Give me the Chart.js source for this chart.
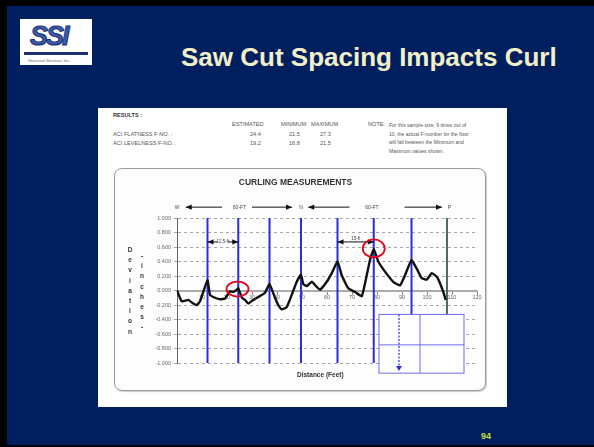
<!DOCTYPE html>
<html>
<head>
<meta charset="utf-8">
<script src="https://cdn.jsdelivr.net/npm/chart.js@4.4.0/dist/chart.umd.min.js"></script>
<style>
  body { margin: 0; background: #000; width: 594px; height: 447px; overflow: hidden; font-family: "Liberation Sans", Arial, sans-serif; }
  .slide { position: absolute; left: 7px; top: 6px; width: 587px; height: 439px; background: #001f5e; }
  .abs { position: absolute; white-space: nowrap; }
  .logo { position: absolute; left: 20px; top: 19px; width: 72px; height: 46px; background: #fff; }
  .title { left: 181px; top: 41px; font-size: 26px; font-weight: bold; color: #f3efc9; line-height: 32px; }
  .pg { left: 481px; top: 431px; font-size: 9px; font-weight: bold; color: #c6e23e; }
  .panel { position: absolute; left: 98px; top: 108px; width: 409px; height: 299px; background: #fff; }
  .t { color: #555; font-size: 5.6px; line-height: 7px; }
  .box { position: absolute; left: 114px; top: 168px; width: 370px; height: 221px; border: 1px solid #9a9a9a; border-radius: 8px; background: #fdfdfd; box-shadow: 1px 1px 1px #ccc; }
  canvas { position: absolute; left: 114px; top: 168px; }
  .lt { font-size: 6.5px; font-weight: bold; color: #333; text-align: center; width: 8px; line-height: 10.2px; }
</style>
</head>
<body>
<div class="slide"></div>
<div class="logo">
  <div class="abs" style="left:10px;top:2px;font-size:27px;font-weight:bold;font-style:italic;color:#3b5caa;letter-spacing:-2px;-webkit-text-stroke:1px #1d2f6e;">SSI</div>
  <div class="abs" style="left:4px;top:33px;width:64px;height:3px;background:#1d2f6e;"></div>
  <div class="abs" style="left:8px;top:39px;font-size:4px;color:#666;">Structural Services, Inc.</div>
</div>
<div class="abs title">Saw Cut Spacing Impacts Curl</div>
<div class="abs pg">94</div>
<div class="panel"></div>

<div class="abs t" style="left:113px;top:112px;font-weight:bold;color:#333;">RESULTS :</div>
<div class="abs t" style="left:232px;top:121px;">ESTIMATED</div>
<div class="abs t" style="left:281px;top:121px;">MINIMUM</div>
<div class="abs t" style="left:311px;top:121px;">MAXIMUM</div>
<div class="abs t" style="left:113px;top:131px;">ACI FLATNESS F-NO. :</div>
<div class="abs t" style="left:113px;top:140px;">ACI LEVELNESS F-NO. :</div>
<div class="t" id="vals"></div>
<div class="abs t" style="left:368px;top:121px;">NOTE:</div>
<div class="abs t" style="left:389px;top:121px;font-size:5px;line-height:8.5px;">For this sample size, 9 times out of<br>10, the actual F-number for the floor<br>will fall between the Minimum and<br>Maximum values shown.</div>

<div class="box"></div>
<canvas id="curl" width="372" height="223"></canvas>
<div id="ylab"></div>
<div class="abs" style="left:297px;top:371px;font-size:6.5px;font-weight:bold;color:#333;">Distance (Feet)</div>

<script>
// results table
var estimated = [24.4, 19.2];
var minimum = [21.5, 16.8];
var maximum = [27.3, 21.5];

// curling profile, distance in feet vs deviation in inches
var distanceFt = [0, 1.9, 4.5, 6.5, 7.9, 9.2, 12.2, 13.2, 15.2, 17.2, 19.2, 21.2, 22.5, 23.9, 24.5, 26,
  27.2, 28.5, 30.5, 32.5, 35.2, 37, 39.2, 40.5, 41.9, 43.9, 45.9, 47.9, 49.6, 50.5, 51.9, 53.9, 55.9,
  57.2, 59.9, 61.9, 64.2, 65.9, 68.5, 71.2, 73.9, 75.9, 77.2, 78.7, 80.5, 83.2, 86.5, 89.2, 91.2, 93.8,
  95.9, 97.9, 99.9, 101.9, 103.9, 105.2, 106.5, 107.5];
var deviation = [0, -0.15, -0.13, -0.18, -0.2, -0.15, 0.14, -0.06, -0.1, -0.12, -0.11, -0.01, -0.02, 0.01, 0.03, -0.1,
  -0.13, -0.18, -0.13, -0.09, -0.03, 0.09, -0.1, -0.2, -0.26, -0.23, -0.06, 0.12, 0.22, 0.09, 0.06, 0.12, 0.05,
  0.01, 0.12, 0.24, 0.4, 0.21, 0.03, -0.02, -0.08, 0.21, 0.42, 0.57, 0.4, 0.26, 0.12, 0.07, 0.21, 0.42,
  0.3, 0.17, 0.15, 0.24, 0.19, 0.1, -0.02, -0.13];

// saw cuts and wall
var sawCuts = [12.2, 24.5, 37, 49.6, 64.2, 78.7, 93.8];
var wallFt = 108;
var yTicks = [1, 0.8, 0.6, 0.4, 0.2, 0, -0.2, -0.4, -0.6, -0.8, -1];

// top labels and dimension arrows
var zoneLabels = ['W', '60-FT', 'N', '60-FT', 'P'];
var zoneLabelFt = [0, 25, 49.6, 78, 109];
var circled = [[24.2, 0.02], [78.7, 0.58]];

var vh = '';
for (var i = 0; i < estimated.length; i++) {
  var rowTop = 131 + i * 9;
  vh += '<div class="abs" style="left:250px;top:' + rowTop + 'px">' + estimated[i].toFixed(1) + '</div>';
  vh += '<div class="abs" style="left:289px;top:' + rowTop + 'px">' + minimum[i].toFixed(1) + '</div>';
  vh += '<div class="abs" style="left:320px;top:' + rowTop + 'px">' + maximum[i].toFixed(1) + '</div>';
}
document.getElementById('vals').innerHTML = vh;

var yl = '';
'Deviation'.split('').forEach(function (c, i) {
  yl += '<div class="abs lt" style="left:126px;top:' + (245 + i * 10.2) + 'px">' + c + '</div>';
});
'-inches-'.split('').forEach(function (c, i) {
  yl += '<div class="abs lt" style="left:138px;top:' + (251 + i * 10.2) + 'px">' + c + '</div>';
});
document.getElementById('ylab').innerHTML = yl;

var BLUE = '#2d2ddb';

var datasets = [{
  label: 'Curl',
  data: distanceFt.map(function (d, i) { return { x: d, y: deviation[i] }; }),
  borderColor: '#111',
  borderWidth: 2.4,
  pointRadius: 0,
  tension: 0.12
}];
sawCuts.forEach(function (c) {
  datasets.push({ data: [{ x: c, y: 1 }, { x: c, y: -1 }], borderColor: BLUE, borderWidth: 2, pointRadius: 0 });
});
datasets.push({ data: [{ x: wallFt, y: 1 }, { x: wallFt, y: -0.33 }], borderColor: '#4f6b5e', borderWidth: 2, pointRadius: 0 });

function arrowHead(ctx, x, y, dir, len) {
  ctx.beginPath();
  ctx.moveTo(x, y);
  ctx.lineTo(x - dir * len, y - 2.6);
  ctx.lineTo(x - dir * len, y + 2.6);
  ctx.closePath();
  ctx.fill();
}
function arrow(ctx, x1, x2, y, heads) {
  ctx.beginPath(); ctx.moveTo(x1, y); ctx.lineTo(x2, y); ctx.stroke();
  if (heads.indexOf('l') >= 0) arrowHead(ctx, x1, y, -1, 6);
  if (heads.indexOf('r') >= 0) arrowHead(ctx, x2, y, 1, 6);
}

var marks = {
  id: 'marks',
  afterDatasetsDraw: function (chart) {
    var ctx = chart.ctx, xs = chart.scales.x, ys = chart.scales.y;
    var px = function (v) { return xs.getPixelForValue(v); };
    var py = function (v) { return ys.getPixelForValue(v); };
    ctx.save();
    // inset detail box
    var bx1 = px(80.8), bx2 = px(114.8), by1 = py(-0.33), by2 = py(-1.14);
    ctx.fillStyle = '#fff';
    ctx.fillRect(bx1, by1, bx2 - bx1, by2 - by1);
    ctx.strokeStyle = '#6c6ce6'; ctx.lineWidth = 1;
    ctx.strokeRect(bx1, by1, bx2 - bx1, by2 - by1);
    ctx.beginPath();
    ctx.moveTo(px(97.2), by1); ctx.lineTo(px(97.2), by2);
    ctx.moveTo(bx1, py(-0.75)); ctx.lineTo(bx2, py(-0.75));
    ctx.stroke();
    ctx.setLineDash([2, 1.5]); ctx.strokeStyle = BLUE; ctx.lineWidth = 1.2;
    ctx.beginPath(); ctx.moveTo(px(88.8), by1); ctx.lineTo(px(88.8), py(-1.08)); ctx.stroke();
    ctx.setLineDash([]);
    ctx.fillStyle = BLUE;
    ctx.beginPath(); ctx.moveTo(px(88.8), py(-1.11)); ctx.lineTo(px(88.8) - 3, py(-1.04)); ctx.lineTo(px(88.8) + 3, py(-1.04)); ctx.closePath(); ctx.fill();

    // top zone labels and arrows
    var ty = py(1.15);
    ctx.fillStyle = '#444'; ctx.strokeStyle = '#111'; ctx.lineWidth = 1;
    ctx.font = '5px "Liberation Sans", Arial';
    ctx.textAlign = 'center'; ctx.textBaseline = 'middle';
    zoneLabels.forEach(function (t, i) { ctx.fillText(t, px(zoneLabelFt[i]), ty); });
    ctx.fillStyle = '#111';
    arrow(ctx, px(3.5), px(18), ty, 'l');
    arrow(ctx, px(30), px(46), ty, 'r');
    arrow(ctx, px(52.5), px(69), ty, 'l');
    arrow(ctx, px(91), px(106), ty, 'r');

    // spacing dimensions
    var dy = py(0.67);
    arrow(ctx, px(sawCuts[0]), px(sawCuts[1]), dy, 'lr');
    arrow(ctx, px(sawCuts[4]), px(sawCuts[5]), dy, 'lr');
    ctx.fillStyle = '#fdfdfd';
    ctx.fillRect(px(16.2), dy - 3, px(20.5) - px(16.2), 6);
    ctx.fillStyle = '#444';
    ctx.font = '4.5px "Liberation Sans", Arial';
    ctx.fillText('12.5-ft', px(18.35), dy);
    ctx.fillText('15-ft', px(71.5), dy - 3);

    // red circles
    ctx.strokeStyle = '#e3001b'; ctx.lineWidth = 1.8;
    circled.forEach(function (c, i) {
      ctx.beginPath();
      ctx.ellipse(px(c[0]), py(c[1]), 11, i ? 9 : 7.5, 0, 0, Math.PI * 2);
      ctx.stroke();
    });
    ctx.restore();
  }
};

new Chart(document.getElementById('curl'), {
  type: 'line',
  data: { datasets: datasets },
  plugins: [marks],
  options: {
    responsive: false,
    animation: false,
    devicePixelRatio: 1,
    layout: { padding: { left: 0, right: 9, bottom: 28, top: 0 } },
    plugins: {
      legend: { display: false },
      tooltip: { enabled: false },
      title: {
        display: true,
        text: 'CURLING MEASUREMENTS',
        color: '#333',
        font: { family: '"Liberation Sans", Arial', size: 8.5, weight: 'bold', lineHeight: 1.2 },
        padding: { top: 10, bottom: 29.8 }
      }
    },
    scales: {
      x: {
        type: 'linear',
        position: { y: 0 },
        min: 0, max: 120,
        ticks: {
          stepSize: 10, color: '#666', padding: 1,
          font: { family: '"Liberation Sans", Arial', size: 5.5 },
          callback: function (v) { return v === 0 ? '' : v; }
        },
        grid: { drawOnChartArea: false, tickLength: 3, color: '#888' },
        border: { color: '#aaa', width: 2 }
      },
      y: {
        min: -1, max: 1,
        afterBuildTicks: function (s) { s.ticks = yTicks.map(function (v) { return { value: v }; }); },
        afterFit: function (s) { s.width = 63; },
        ticks: {
          color: '#666', padding: 3,
          font: { family: '"Liberation Sans", Arial', size: 5.5 },
          callback: function (v) { return (Math.abs(v) < 1e-9 ? 0 : v).toFixed(3); }
        },
        grid: { color: '#a8a8a8', tickLength: 3 },
        border: { color: '#666', width: 1, dash: [3, 3] }
      }
    }
  }
});
</script>
</body>
</html>
